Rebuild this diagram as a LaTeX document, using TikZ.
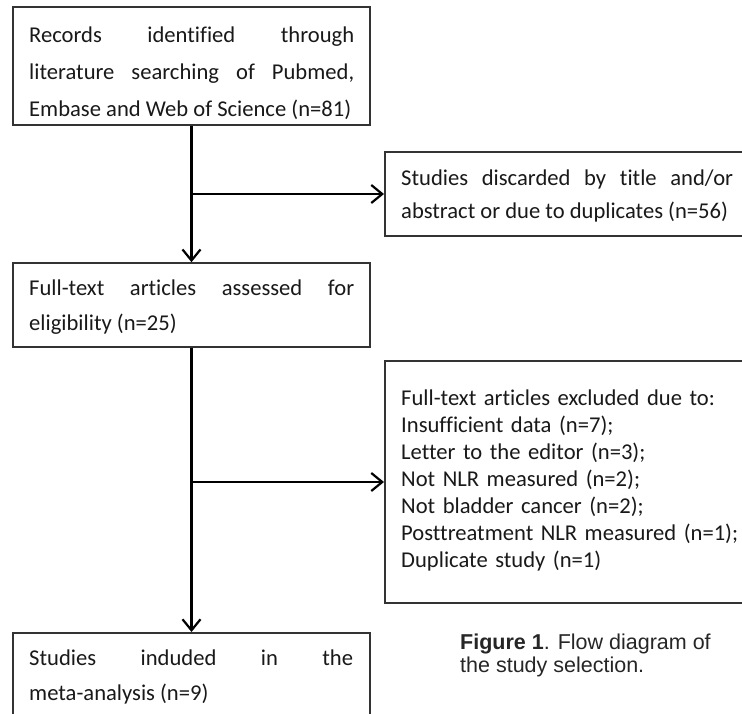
\documentclass[tikz,border=0pt]{standalone}
\usepackage{fontspec}
\setmainfont{Carlito}[Ligatures={NoCommon}]
\newfontfamily\capfont{Liberation Sans}
\usetikzlibrary{arrows.meta}
\begin{document}
\begin{tikzpicture}[x=1pt,y=-1pt,
  box/.style={draw=black!80, line width=1.6pt, rectangle, inner sep=0pt},
  txt/.style={inner sep=0pt, anchor=base west, align=justify, text=black!90},
  conn/.style={draw=black, line width=2.4pt, -{Straight Barb[length=11pt,width=18pt,line width=2.2pt]}}]
\useasboundingbox (0,0) rectangle (742,713);
\clip (0,0) rectangle (742,713);
\fill[white] (0,0) rectangle (742,713);
% boxes
\node[box, minimum width=357pt, minimum height=118pt] (b1) at (191.5,66) {};
\node[box, minimum width=380pt, minimum height=84pt, anchor=west] (b2) at (384,194) {};
\node[box, minimum width=357pt, minimum height=84pt] (b3) at (191.5,305) {};
\node[box, minimum width=380pt, minimum height=242pt, anchor=west] (b4) at (384,482) {};
\node[box, minimum width=357pt, minimum height=140pt, anchor=north] (b5) at (191.5,632) {};
% texts
\node[txt, text width=325pt, font=\fontsize{22.6}{37}\selectfont] (t1) at (29,42)
  {Records identified through\linebreak literature searching of Pubmed,\linebreak Embase and Web of Science (n=81)};
\node[txt, text width=332pt, font=\fontsize{22.6}{33}\selectfont] (t2) at (401,185)
  {Studies discarded by title and/or\linebreak abstract or due to duplicates (n=56)};
\node[txt, text width=325pt, font=\fontsize{22.6}{35}\selectfont] (t3) at (29,295)
  {Full-text articles assessed for\linebreak eligibility (n=25)};
\node[txt, text width=345pt, align=left, font=\fontsize{22.6}{27}\selectfont] (t4) at (401,405)
  {Full-text articles excluded due to:\\Insufficient data (n=7);\\Letter to the editor (n=3);\\Not NLR measured (n=2);\\Not bladder cancer (n=2);\\Posttreatment NLR measured (n=1);\\Duplicate study (n=1)};
\node[txt, text width=324pt, font=\fontsize{22.6}{35}\selectfont] (t5) at (29,665)
  {Studies induded in the\linebreak meta-analysis (n=9)};
% caption
\node[inner sep=0pt, anchor=base west, align=left, text=black!85, font=\capfont\fontsize{21.5}{23}\selectfont] (cap) at (460,672)
  {\textbf{Figure 1}. Flow diagram of\\the study selection.};
% connectors
\coordinate (j1) at (b1.south |- b2.west);
\coordinate (j2) at (b3.south |- b4.west);
\draw[conn] (b1.south) -- (b3.north);
\draw[conn] (j1) -- (b2.west);
\draw[conn] (b3.south) -- (b5.north);
\draw[conn] (j2) -- (b4.west);
\end{tikzpicture}
\end{document}
